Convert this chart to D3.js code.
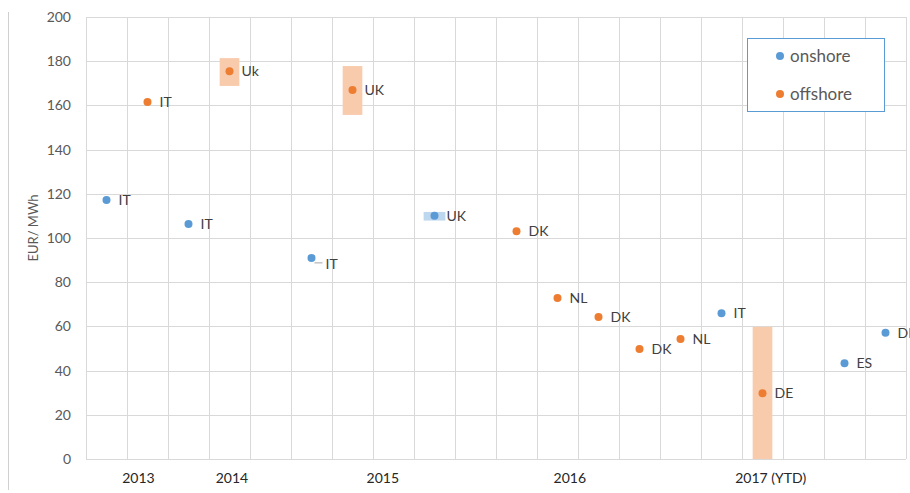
<!DOCTYPE html>
<html>
<head>
<meta charset="utf-8">
<script src="https://cdn.jsdelivr.net/npm/d3@7"></script>
<style>
  html, body { margin: 0; padding: 0; background: #fff; }
  svg { display: block; font-family: Lato, "Open Sans", sans-serif; }
</style>
</head>
<body>
<svg id="chart" width="910" height="493"></svg>
<script>
// ---------- data ----------
const onshoreX      = [0.5, 2.5, 5.5, 8.5, 15.5, 18.5, 19.5];
const onshoreValues = [117.2, 106.3, 91, 110.1, 66, 43.3, 57.1];
const onshoreLabels = ["IT", "IT", "IT", "UK", "IT", "ES", "DE"];

const offshoreX      = [1.5, 3.5, 6.5, 10.5, 11.5, 12.5, 13.5, 14.5, 16.5];
const offshoreValues = [161.5, 175.5, 167, 103, 72.8, 64.3, 49.8, 54.3, 29.7];
const offshoreLabels = ["IT", "Uk", "UK", "DK", "NL", "DK", "DK", "NL", "DE"];

// price ranges (min / max) shown as shaded bands
const rangeSeries = ["offshore", "offshore", "onshore", "offshore"];
const rangeX      = [3.5, 6.5, 8.5, 16.5];
const rangeLow    = [168.8, 155.7, 107.9, 0];
const rangeHigh   = [181.4, 177.8, 111.8, 59.8];

const yearLabels    = ["2013", "2014", "2015", "2016", "2017 (YTD)"];
const yearPositions = [1.28, 3.56, 7.24, 11.8, 16.7];

const yTicks = [0, 20, 40, 60, 80, 100, 120, 140, 160, 180, 200];

// ---------- styles ----------
const colors = { onshore: "#5b9bd5", offshore: "#ed7d31" };
const bandColors = { onshore: "#bdd7ee", offshore: "#f8cbad" };
const bandWidth = { onshore: 0.53, offshore: 0.48 };

const svg = d3.select("#chart");
const x = d3.scaleLinear().domain([0, 20]).range([86, 906]);
const y = d3.scaleLinear().domain([0, 200]).range([459, 17]);

// outer left border line
svg.append("line").attr("x1", 8.5).attr("x2", 8.5).attr("y1", 12).attr("y2", 490)
  .attr("stroke", "#d0d0d0").attr("stroke-width", 1);

// gridlines
const grid = svg.append("g");
grid.selectAll("line.h").data(yTicks).join("line")
  .attr("x1", x(0)).attr("x2", x(20))
  .attr("y1", d => Math.round(y(d)) + 0.5).attr("y2", d => Math.round(y(d)) + 0.5)
  .attr("stroke", "#d9d9d9").attr("stroke-width", 1);
grid.selectAll("line.v").data(d3.range(0, 21)).join("line")
  .attr("y1", y(0)).attr("y2", y(200))
  .attr("x1", d => Math.round(x(d)) + 0.5).attr("x2", d => Math.round(x(d)) + 0.5)
  .attr("stroke", "#d9d9d9").attr("stroke-width", 1);

// y axis (labels only)
const yAxis = d3.axisLeft(y).tickValues(yTicks).tickSize(0).tickPadding(0);
const yg = svg.append("g").attr("transform", `translate(71,0)`).call(yAxis);
yg.select(".domain").remove();
yg.selectAll("text").attr("fill", "#595959").style("font-size", "14px")
  .style("font-family", "Lato, 'Open Sans', sans-serif");

// y axis title
svg.append("text")
  .attr("transform", "translate(38,228) rotate(-90)")
  .attr("text-anchor", "middle")
  .attr("fill", "#595959").style("font-size", "13px")
  .text("EUR/ MWh");

// year labels
svg.append("g").selectAll("text").data(yearLabels).join("text")
  .attr("x", (d, i) => x(yearPositions[i]))
  .attr("y", 483)
  .attr("text-anchor", "middle")
  .attr("fill", "#262626").style("font-size", "14px")
  .text(d => d);

// range bands
svg.append("g").selectAll("rect").data(rangeX).join("rect")
  .attr("x", (d, i) => x(d - bandWidth[rangeSeries[i]] / 2))
  .attr("width", (d, i) => x(bandWidth[rangeSeries[i]]) - x(0))
  .attr("y", (d, i) => y(rangeHigh[i]))
  .attr("height", (d, i) => y(rangeLow[i]) - y(rangeHigh[i]))
  .attr("fill", (d, i) => bandColors[rangeSeries[i]]);

// points + labels
function drawSeries(xs, vs, labels, key) {
  const g = svg.append("g");
  g.selectAll("circle").data(xs).join("circle")
    .attr("cx", d => x(d))
    .attr("cy", (d, i) => y(vs[i]))
    .attr("r", 4)
    .attr("fill", colors[key]);
  g.selectAll("text").data(labels).join("text")
    .attr("x", (d, i) => x(xs[i]) + (key === "onshore" && i === 2 ? 14 : 12))
    .attr("y", (d, i) => y(vs[i]) + (key === "onshore" && i === 2 ? 11 : 5))
    .attr("fill", "#404040").style("font-size", "14px")
    .text(d => d);
}
drawSeries(onshoreX, onshoreValues, onshoreLabels, "onshore");
drawSeries(offshoreX, offshoreValues, offshoreLabels, "offshore");

// leader line for displaced label
svg.append("line")
  .attr("x1", x(onshoreX[2]) + 3).attr("y1", y(onshoreValues[2]) + 5)
  .attr("x2", x(onshoreX[2]) + 11).attr("y2", y(onshoreValues[2]) + 5)
  .attr("stroke", "#a6a6a6").attr("stroke-width", 1);

// legend
const legend = svg.append("g");
legend.append("rect").attr("x", 747.5).attr("y", 38.5).attr("width", 137).attr("height", 73)
  .attr("fill", "#fff").attr("stroke", "#5b9bd5").attr("stroke-width", 1);
const legendKeys = ["onshore", "offshore"];
legend.selectAll("circle").data(legendKeys).join("circle")
  .attr("cx", 780).attr("cy", (d, i) => 56 + i * 38).attr("r", 4)
  .attr("fill", d => colors[d]);
legend.selectAll("text").data(legendKeys).join("text")
  .attr("x", 790).attr("y", (d, i) => 62 + i * 38)
  .attr("fill", "#595959").style("font-size", "17px")
  .text(d => d);
</script>
</body>
</html>
